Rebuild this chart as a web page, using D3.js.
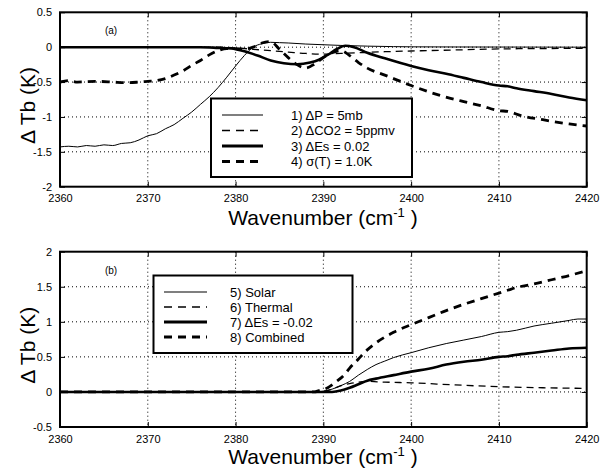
<!DOCTYPE html>
<html>
<head>
<meta charset="utf-8">
<script src="https://cdn.jsdelivr.net/npm/d3@7"></script>
<style>
  html, body { margin: 0; padding: 0; background: #fff; }
  svg { display: block; font-family: "Liberation Sans", Arial, Helvetica, sans-serif; }
</style>
</head>
<body>
<svg id="chart" width="608" height="469"></svg>
<script>
// ---- Panel (a): sensitivity of brightness temperature to perturbations ----
const wnP = [2360,2361,2362,2363,2364,2365,2366,2367,2368,2369,2370,2371,2372,2373,2374,2375,2376,2377,2378,2379,2380,2381,2382,2383,2384,2385,2386,2388,2390,2392,2395,2398,2400,2405,2410,2420];
const dTbP = [-1.43,-1.42,-1.43,-1.41,-1.42,-1.40,-1.41,-1.38,-1.37,-1.33,-1.27,-1.24,-1.17,-1.11,-1.02,-0.93,-0.82,-0.71,-0.58,-0.43,-0.27,-0.12,0.00,0.05,0.07,0.065,0.06,0.045,0.035,0.025,0.015,0.008,0.005,0.003,0.002,0.0];

const wnCO2 = [2360,2378,2380,2382,2384,2386,2388,2390,2392,2394,2397,2400,2405,2410,2415,2420];
const dTbCO2 = [0,0,-0.01,-0.03,-0.05,-0.07,-0.09,-0.10,-0.09,-0.08,-0.065,-0.055,-0.04,-0.025,-0.02,-0.015];

const wnEsA = [2360,2376,2378,2379.5,2381,2382.5,2384,2385.5,2387,2388.5,2389.5,2390.5,2391.5,2392.5,2393.5,2395,2397,2400,2402,2404,2406,2408,2410,2411,2412,2414,2416,2418,2420];
const dTbEsA = [0,0,-0.01,-0.02,-0.06,-0.12,-0.19,-0.23,-0.245,-0.22,-0.18,-0.11,-0.03,0.02,0.0,-0.08,-0.16,-0.27,-0.33,-0.38,-0.44,-0.50,-0.55,-0.56,-0.59,-0.63,-0.67,-0.72,-0.76];

const wnT = [2360,2361,2362,2364,2366,2367.5,2369,2370,2371,2372,2373,2374,2375,2376,2377,2378,2379,2380,2381,2382,2383,2384,2385,2386,2387,2388,2389,2390,2391,2392,2393,2394,2395,2397,2400,2403,2406,2408,2410,2411,2412.5,2415,2418,2420];
const dTbT = [-0.5,-0.48,-0.5,-0.49,-0.5,-0.51,-0.5,-0.49,-0.48,-0.45,-0.40,-0.34,-0.26,-0.19,-0.11,-0.05,-0.02,-0.02,-0.03,0.0,0.06,0.08,-0.03,-0.15,-0.25,-0.30,-0.24,-0.15,-0.08,-0.05,-0.12,-0.22,-0.30,-0.40,-0.55,-0.68,-0.78,-0.84,-0.91,-0.92,-0.98,-1.04,-1.10,-1.13];

// ---- Panel (b): surface reflection contributions ----
const wnSolar = [2360,2389,2390,2391,2392,2393,2394,2395,2396,2397,2398,2400,2402,2404,2406,2408,2410,2411,2412,2414,2416,2418,2419,2420];
const dTbSolar = [0,0,0.01,0.04,0.09,0.15,0.24,0.32,0.39,0.44,0.49,0.56,0.63,0.69,0.74,0.79,0.85,0.86,0.88,0.94,0.98,1.02,1.04,1.04];

const wnThermal = [2360,2389,2390,2391,2392,2393,2394,2395,2397,2400,2405,2410,2415,2420];
const dTbThermal = [0,0,0.01,0.04,0.09,0.12,0.14,0.15,0.14,0.13,0.10,0.075,0.06,0.05];

const wnEsB = [2360,2390,2391,2392,2393,2394,2395,2396,2398,2400,2402,2404,2406,2408,2410,2411,2412,2414,2416,2418,2420];
const dTbEsB = [0,0,0.0,0.02,0.06,0.11,0.16,0.19,0.24,0.29,0.33,0.39,0.43,0.46,0.50,0.51,0.53,0.56,0.59,0.62,0.63];

const wnComb = [2360,2389,2389.5,2390.5,2391.5,2392.5,2393,2394,2395,2396,2398,2400,2402,2404,2406,2408,2410,2411,2412,2414,2416,2418,2420];
const dTbComb = [0,0,0.02,0.06,0.15,0.26,0.34,0.47,0.60,0.70,0.85,0.96,1.06,1.16,1.25,1.33,1.41,1.45,1.49,1.54,1.60,1.66,1.73];

// ---- Axis ticks and legend text ----
const xTicks = [2360,2370,2380,2390,2400,2410,2420];
const yTicksA = [0.5,0,-0.5,-1,-1.5,-2];
const yTicksB = [2,1.5,1,0.5,0,-0.5];
const legendA = ["1) \u0394P = 5mb","2) \u0394CO2 = 5ppmv","3) \u0394Es = 0.02","4) \u03C3(T) = 1.0K"];
const legendB = ["5) Solar","6) Thermal","7) \u0394Es = -0.02","8) Combined"];

// line styles: thin solid, thin dashed, thick solid, thick dashed
const styles = [
  {w: 1,   dash: null},
  {w: 1.3, dash: "7,5"},
  {w: 2.6, dash: null},
  {w: 2.8, dash: "8,6"}
];

const svg = d3.select("#chart");
const X0 = 60, X1 = 586.7;

function panel(opts) {
  const {top, bottom, yDomain, yTicks, series, legend, tag, legendBox} = opts;
  const x = d3.scaleLinear().domain([2360, 2420]).range([X0, X1]);
  const y = d3.scaleLinear().domain(yDomain).range([bottom, top]);
  const g = svg.append("g");

  // dotted grid at the interior ticks
  g.append("g").selectAll("line").data(xTicks.slice(1, -1)).join("line")
    .attr("x1", d => x(d)).attr("x2", d => x(d)).attr("y1", top).attr("y2", bottom)
    .attr("stroke", "#000").attr("stroke-width", 1).attr("stroke-dasharray", "1,3");
  const yInner = yTicks.filter(v => v !== yDomain[0] && v !== yDomain[1]);
  g.append("g").selectAll("line").data(yInner).join("line")
    .attr("x1", X0).attr("x2", X1).attr("y1", d => y(d)).attr("y2", d => y(d))
    .attr("stroke", "#000").attr("stroke-width", 1).attr("stroke-dasharray", "1,3");

  // curves
  const clipId = "clip-" + tag;
  svg.append("clipPath").attr("id", clipId).append("rect")
    .attr("x", X0).attr("y", top).attr("width", X1 - X0).attr("height", bottom - top);
  const line = d3.line().x(d => x(d[0])).y(d => y(d[1])).curve(d3.curveMonotoneX);
  const cg = g.append("g").attr("clip-path", `url(#${clipId})`);
  series.forEach((s, i) => {
    const st = styles[i];
    cg.append("path")
      .datum(d3.zip(s.wn, s.v))
      .attr("d", line)
      .attr("fill", "none").attr("stroke", "#000")
      .attr("stroke-width", st.w)
      .attr("stroke-dasharray", st.dash)
      .attr("stroke-linejoin", "round");
  });

  // axes: ticks pointing inward on all four sides
  const tickLen = 5;
  g.append("g").attr("transform", `translate(0,${bottom})`)
    .call(d3.axisBottom(x).tickValues(xTicks).tickSize(-tickLen).tickPadding(10).tickFormat(d => String(d)))
    .call(a => a.select(".domain").remove())
    .call(a => a.selectAll("text").attr("font-size", 11).attr("font-family", "Liberation Sans, Arial, sans-serif").attr("dy", "0.5em"));
  g.append("g").attr("transform", `translate(0,${top})`)
    .call(d3.axisTop(x).tickValues(xTicks).tickSize(-tickLen).tickFormat(""))
    .call(a => a.select(".domain").remove());
  g.append("g").attr("transform", `translate(${X0},0)`)
    .call(d3.axisLeft(y).tickValues(yTicks).tickSize(-tickLen).tickPadding(8).tickFormat(d => String(d)))
    .call(a => a.select(".domain").remove())
    .call(a => a.selectAll("text").attr("font-size", 11).attr("font-family", "Liberation Sans, Arial, sans-serif"));
  g.append("g").attr("transform", `translate(${X1},0)`)
    .call(d3.axisRight(y).tickValues(yTicks).tickSize(-tickLen).tickFormat(""))
    .call(a => a.select(".domain").remove());

  // frame
  g.append("rect").attr("x", X0).attr("y", top).attr("width", X1 - X0).attr("height", bottom - top)
    .attr("fill", "none").attr("stroke", "#000").attr("stroke-width", 2);

  // panel tag
  g.append("text").attr("x", 111).attr("y", top + opts.tagDy)
    .attr("text-anchor", "middle").attr("font-size", 10).text(`(${tag})`);

  // axis titles
  const xt = g.append("text").attr("x", 323).attr("y", opts.xTitleY)
    .attr("text-anchor", "middle").attr("font-size", 21);
  xt.append("tspan").text("Wavenumber (cm");
  xt.append("tspan").attr("font-size", 13).attr("dy", -8).text("-1");
  xt.append("tspan").attr("dy", 8).text(" )");

  g.append("text")
    .attr("transform", `translate(35,${(top + bottom) / 2 + 6}) rotate(-90)`)
    .attr("text-anchor", "middle").attr("font-size", 21)
    .text("\u0394 Tb (K)");

  // legend
  const lb = legendBox;
  const lg = g.append("g");
  lg.append("rect").attr("x", lb.x).attr("y", lb.y).attr("width", lb.w).attr("height", lb.h)
    .attr("fill", "#fff").attr("stroke", "#000").attr("stroke-width", 2);
  legend.forEach((txt, i) => {
    const yy = lb.rowY + i * lb.step;
    const st = styles[i];
    lg.append("line").attr("x1", lb.sx0).attr("x2", lb.sx1).attr("y1", yy).attr("y2", yy)
      .attr("stroke", "#000").attr("stroke-width", st.w === 1 ? 1.2 : st.w + 0.4)
      .attr("stroke-dasharray", st.dash ? "8,6" : null);
    lg.append("text").attr("x", lb.tx).attr("y", yy).attr("dy", "0.36em")
      .attr("font-size", 13).text(txt);
  });
}

panel({
  top: 12.3, bottom: 186.7, yDomain: [-2, 0.5], yTicks: yTicksA, tag: "a", tagDy: 22,
  xTitleY: 225,
  series: [{wn: wnP, v: dTbP}, {wn: wnCO2, v: dTbCO2}, {wn: wnEsA, v: dTbEsA}, {wn: wnT, v: dTbT}],
  legend: legendA,
  legendBox: {x: 211, y: 98.5, w: 201, h: 78.5, rowY: 115, step: 15.5, sx0: 222, sx1: 263, tx: 291}
});

panel({
  top: 251.7, bottom: 427, yDomain: [-0.5, 2], yTicks: yTicksB, tag: "b", tagDy: 22,
  xTitleY: 464,
  series: [{wn: wnSolar, v: dTbSolar}, {wn: wnThermal, v: dTbThermal}, {wn: wnEsB, v: dTbEsB}, {wn: wnComb, v: dTbComb}],
  legend: legendB,
  legendBox: {x: 153.5, y: 275.5, w: 199, h: 77.5, rowY: 292, step: 15, sx0: 164, sx1: 207, tx: 230}
});
</script>
</body>
</html>
